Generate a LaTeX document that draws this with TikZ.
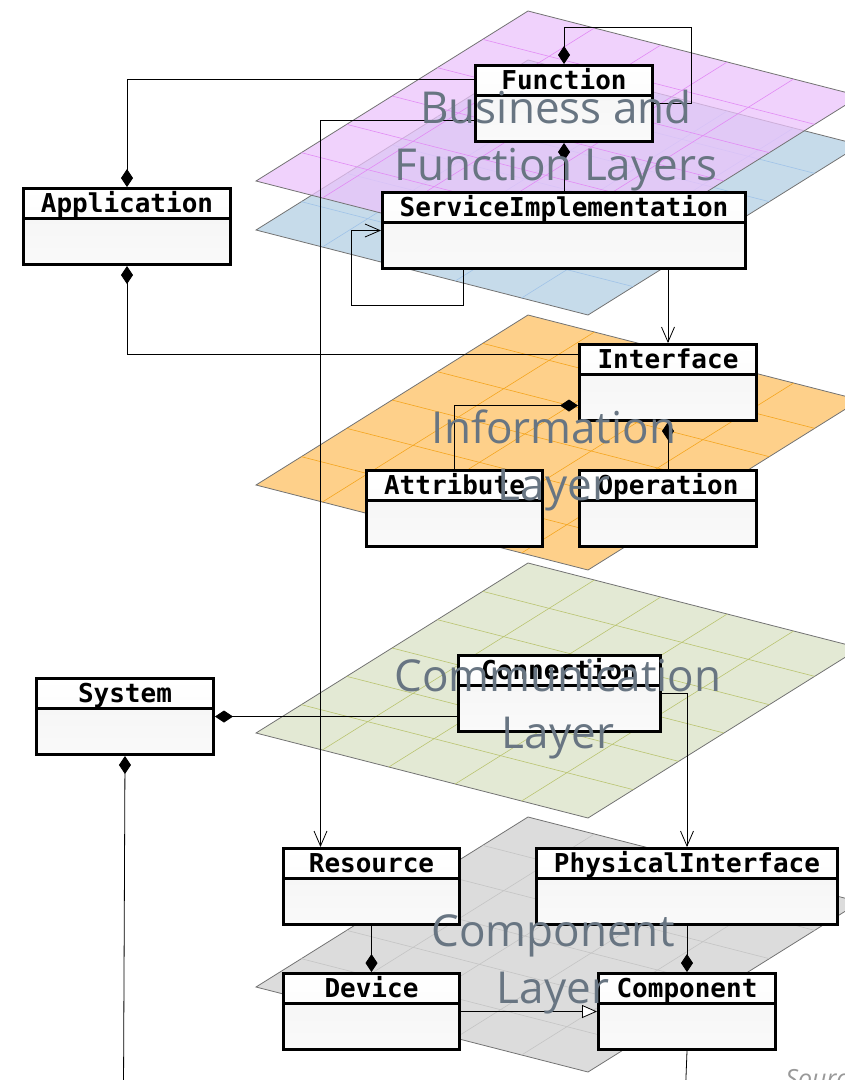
\documentclass[tikz,border=0pt]{standalone}
\usepackage{fontspec}
\setmainfont{Open Sans}
\newfontfamily\classfont{DejaVu Sans Mono}
\usetikzlibrary{arrows.meta}

\definecolor{purplelayer}{RGB}{235,195,251}
\definecolor{purplegrid}{RGB}{226,140,245}
\definecolor{bluelayer}{RGB}{198,219,234}
\definecolor{bluegrid}{RGB}{160,195,232}
\definecolor{orangelayer}{RGB}{254,208,138}
\definecolor{orangegrid}{RGB}{245,165,30}
\definecolor{greenlayer}{RGB}{227,233,212}
\definecolor{greengrid}{RGB}{186,196,112}
\definecolor{graylayer}{RGB}{220,220,220}
\definecolor{graygrid}{RGB}{196,196,196}
\definecolor{layeredge}{RGB}{115,115,115}
\definecolor{layerink}{RGB}{104,117,130}

\begin{document}
\begin{tikzpicture}[x=1pt, y=-1pt,
    classbox/.style={draw=black, line width=3pt, anchor=north west, inner sep=0pt,
      top color=gray!9, bottom color=gray!4,
      text height=24pt, text depth=52pt,
      font=\classfont\bfseries\fontsize{26}{30}\selectfont,
      path picture={
        \shade[top color=white, bottom color=gray!5]
          (path picture bounding box.north west) rectangle ([yshift=-30pt]path picture bounding box.north east);
        \draw[line width=2.6pt]
          ([yshift=-30pt]path picture bounding box.north west) -- ([yshift=-30pt]path picture bounding box.north east);
      }},
    assoc/.style={line width=0.8pt},
    composed/.style={assoc, arrows={Diamond[length=18pt,width=12pt]-}},
    navigable/.style={assoc, arrows={-Straight Barb[length=15pt,width=13pt]}},
    generalize/.style={assoc, arrows={-Triangle[length=15pt,width=13pt,fill=white]}},
    layerlabel/.style={text=layerink, font=\fontsize{44}{57}\selectfont, align=center, anchor=base}]

  \useasboundingbox (0,0) rectangle (845,1080);

  % the five layer planes, each with a 6x5 grid
  \foreach \ly/\fc/\gc/\op in {987/graylayer/graygrid/1, 733/greenlayer/greengrid/1,
      485/orangelayer/orangegrid/1, 230/bluelayer/bluegrid/1, 181/purplelayer/purplegrid/0.75}{
    \begin{scope}[shift={(256,\ly)}]
      \filldraw[draw=layeredge, line width=0.8pt, fill=\fc, fill opacity=\op]
        (0,0) -- (272,-170) -- (604,-85) -- (332,85) -- cycle;
      \foreach \i in {1,...,5}
        \draw[color=\gc, line width=0.6pt] ({\i*272/6},{-\i*170/6}) -- ++(332,85);
      \foreach \j in {1,...,4}
        \draw[color=\gc, line width=0.6pt] ({\j*332/5},{\j*85/5}) -- ++(272,-170);
    \end{scope}
  }

  % classes
  \node[classbox, minimum width=177] (function) at (474,64) {Function};
  \node[classbox, minimum width=207] (application) at (22,187) {Application};
  \node[classbox, minimum width=363] (serviceimpl) at (381,191) {ServiceImplementation};
  \node[classbox, minimum width=177] (interface) at (578,343) {Interface};
  \node[classbox, minimum width=176] (attribute) at (365,469) {Attribute};
  \node[classbox, minimum width=177] (operation) at (578,469) {Operation};
  \node[classbox, minimum width=177] (system) at (35,677) {System};
  \node[classbox, minimum width=202] (connection) at (457,654) {Connection};
  \node[classbox, minimum width=176] (resource) at (282,847) {Resource};
  \node[classbox, minimum width=301] (physicalif) at (535,847) {PhysicalInterface};
  \node[classbox, minimum width=176] (device) at (282,972) {Device};
  \node[classbox, minimum width=177] (component) at (597,972) {Component};

  \coordinate (systemout) at (123.5,1090);
  \coordinate (componentout) at (685.5,1090);

  % relations
  \draw[composed] (function.north) -- ++(0,-37) -| ([xshift=37pt]function.east) -- (function.east);
  \draw[composed] (application.north) |- ([yshift=24pt]function.west);
  \draw[composed] (function.south) -- (serviceimpl.north);
  \draw[navigable] ([yshift=-17pt]function.west) -| ([xshift=-51pt]resource.north);
  \draw[navigable] ([xshift=-101pt]serviceimpl.south) -- ++(0,35) -| ([xshift=-30pt]serviceimpl.west) -- (serviceimpl.west);
  \draw[navigable] (serviceimpl.south -| interface.north) -- (interface.north);
  \draw[composed] (application.south) |- ([yshift=28pt]interface.west);
  \draw[composed] ([yshift=-23pt]interface.west) -| (attribute.north);
  \draw[composed] (interface.south) -- (operation.north);
  \draw[composed] (system.east) -- ([yshift=-23pt]connection.west);
  \draw[composed] (system.south) -- (systemout);
  \draw[navigable] (connection.east) -| (physicalif.north);
  \draw[composed] (device.north) -- (resource.south);
  \draw[composed] (component.north) -- (physicalif.south);
  \draw[generalize] (device.east) -- (component.west);
  \draw[assoc] (component.south) -- (componentout);

  % layer names
  \node[layerlabel] (bizlabel) at (556,180) {Business and\\Function Layers};
  \node[layerlabel] (infolabel) at (554,500) {Information\\Layer};
  \node[layerlabel] (commlabel) at (558,748) {Communication\\Layer};
  \node[layerlabel] (complabel) at (553,1003) {Component\\Layer};

  \node[anchor=base west, text=gray!80, font=\itshape\fontsize{25}{28}\selectfont] (source) at (782,1087) {Source};
\end{tikzpicture}
\end{document}
